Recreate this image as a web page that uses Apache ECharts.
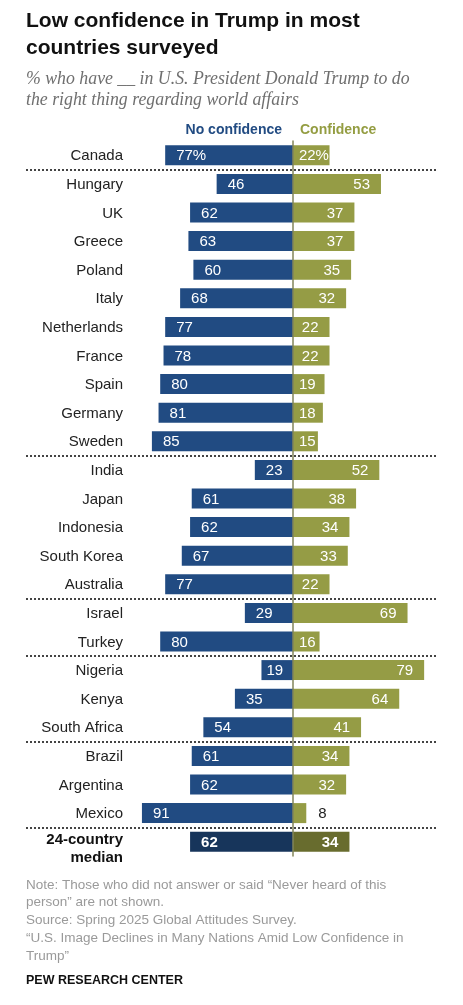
<!DOCTYPE html>
<html>
<head>
<meta charset="utf-8">
<script src="https://cdn.jsdelivr.net/npm/echarts@6/dist/echarts.min.js"></script>
<style>
  html, body { margin: 0; padding: 0; background: #fff; }
  #main { width: 463px; height: 1005px; }
</style>
</head>
<body>
<div id="main"></div>
<script>
// 数据
const countries = ['Canada', 'Hungary', 'UK', 'Greece', 'Poland', 'Italy', 'Netherlands', 'France', 'Spain', 'Germany', 'Sweden',
  'India', 'Japan', 'Indonesia', 'South Korea', 'Australia', 'Israel', 'Turkey', 'Nigeria', 'Kenya', 'South Africa',
  'Brazil', 'Argentina', 'Mexico', '24-country\nmedian'];
const noConfidence = [77, 46, 62, 63, 60, 68, 77, 78, 80, 81, 85, 23, 61, 62, 67, 77, 29, 80, 19, 35, 54, 61, 62, 91, 62];
const confidence = [22, 53, 37, 37, 35, 32, 22, 22, 19, 18, 15, 52, 38, 34, 33, 22, 69, 16, 79, 64, 41, 34, 32, 8, 34];
// 分组的第一行（在它上面画虚线）
const groupStarts = ['Hungary', 'India', 'Israel', 'Nigeria', 'Brazil', '24-country\nmedian'];

const FONT = '"Liberation Sans", Arial, sans-serif';
const BLUE = '#214b82', OLIVE = '#959c45';
const BLUE_DARK = '#17355b', OLIVE_DARK = '#686c2e';
const PX = 1.66; // 每个百分点的像素宽度
const lastIdx = countries.length - 1;

function labelText(v, i) {
  return i === 0 ? v + '%' : String(v);
}
function textWidth(s) {
  return s.replace('%', '').length * 8.3 + (s.includes('%') ? 13.3 : 0);
}

const noData = noConfidence.map((v, i) => {
  const t = labelText(v, i);
  const d = Math.max(3, Math.min(11, v * PX - textWidth(t) - 10));
  return {
    value: -v,
    itemStyle: { color: i === lastIdx ? BLUE_DARK : BLUE },
    label: { show: true, position: 'insideLeft', distance: d, formatter: t, offset: [0, 1],
      fontWeight: i === lastIdx ? 'bold' : 'normal' }
  };
});

const yesData = confidence.map((v, i) => {
  const t = labelText(v, i);
  const room = v * PX - textWidth(t);
  const item = {
    value: v,
    itemStyle: { color: i === lastIdx ? OLIVE_DARK : OLIVE },
    label: { show: true, position: 'insideRight', distance: Math.max(0.5, Math.min(11, room - 6)), formatter: t,
      offset: [0, 1], fontWeight: i === lastIdx ? 'bold' : 'normal' }
  };
  if (room < 6) {
    // 太窄，标签放外面
    item.label.position = 'right';
    item.label.distance = 12;
    item.label.color = '#222';
  }
  return item;
});

// 虚线的位置 = 分组首行的序号
const sepLines = groupStarts.map(c => ({ yAxis: countries.indexOf(c) }));

const chart = echarts.init(document.getElementById('main'), null, { renderer: 'canvas' });

const option = {
  animation: false,
  textStyle: { fontFamily: FONT },
  title: [
    {
      text: 'Low confidence in Trump in most\ncountries surveyed',
      left: 26, top: 8, padding: 0,
      textStyle: { fontFamily: FONT, fontSize: 21, fontWeight: 'bold', color: '#111', lineHeight: 27 }
    },
    {
      text: '% who have __ in U.S. President Donald Trump to do\nthe right thing regarding world affairs',
      left: 26, top: 69, padding: 0,
      textStyle: { fontFamily: '"Liberation Serif", Georgia, serif', fontSize: 17.8, fontStyle: 'italic',
        fontWeight: 'normal', color: '#6f6f6f', lineHeight: 21 }
    },
    {
      text: 'Note: Those who did not answer or said \u201cNever heard of this\nperson\u201d are not shown.\nSource: Spring 2025 Global Attitudes Survey.\n\u201cU.S. Image Declines in Many Nations Amid Low Confidence in\nTrump\u201d',
      left: 26, top: 876, padding: 0,
      textStyle: { fontFamily: FONT, fontSize: 13.5, fontWeight: 'normal', color: '#9a9a9a', lineHeight: 17.8 }
    },
    {
      text: 'PEW RESEARCH CENTER',
      left: 26, top: 972, padding: 0,
      textStyle: { fontFamily: FONT, fontSize: 12.5, fontWeight: 'bold', color: '#111', lineHeight: 18 }
    }
  ],
  graphic: [
    { type: 'text', right: 463 - 282, top: 123,
      style: { text: 'No confidence', font: 'bold 14px ' + FONT, fill: '#214b82' } },
    { type: 'text', left: 300, top: 123,
      style: { text: 'Confidence', font: 'bold 14px ' + FONT, fill: '#949d42' } }
  ],
  grid: [
    { left: 127, right: 4, top: 141, bottom: 149 },
    { left: 26, right: 27, top: 141, bottom: 149 }
  ],
  xAxis: [
    { gridIndex: 0, type: 'value', min: -100, max: 100, show: false },
    { gridIndex: 1, type: 'value', min: 0, max: 1, show: false }
  ],
  yAxis: [
    {
      gridIndex: 0, type: 'category', data: countries, inverse: true, z: 10,
      axisLine: { show: true, onZero: true, lineStyle: { color: '#82845a', width: 1.5 } },
      axisTick: { show: false },
      splitLine: { show: false },
      axisLabel: {
        margin: 4, fontSize: 15, color: '#222', fontFamily: FONT, align: 'right', padding: [2, 0, 0, 0],
        formatter: function (v) {
          if (v.indexOf('median') < 0) return v;
          return '{s|}\n' + v.split('\n').map(p => '{m|' + p + '}').join('\n');
        },
        rich: {
          m: { fontSize: 15, fontWeight: 'bold', color: '#111', fontFamily: FONT, lineHeight: 18 },
          s: { fontSize: 1, lineHeight: 12 }
        }
      }
    },
    {
      gridIndex: 1, type: 'value', min: 0, max: countries.length, inverse: true, show: false
    }
  ],
  series: [
    {
      name: 'No confidence', type: 'bar', xAxisIndex: 0, yAxisIndex: 0,
      barWidth: 20, barGap: '-100%', data: noData,
      label: { color: '#fff', fontSize: 15, fontFamily: FONT }
    },
    {
      name: 'Confidence', type: 'bar', xAxisIndex: 0, yAxisIndex: 0,
      barWidth: 20, barGap: '-100%', data: yesData,
      label: { color: '#fff', fontSize: 15, fontFamily: FONT }
    },
    {
      name: 'sep', type: 'line', xAxisIndex: 1, yAxisIndex: 1, data: [],
      markLine: {
        silent: true, symbol: 'none', label: { show: false },
        lineStyle: { color: '#444', width: 2, type: [2, 2] },
        data: sepLines
      }
    }
  ]
};

chart.setOption(option);
</script>
</body>
</html>
